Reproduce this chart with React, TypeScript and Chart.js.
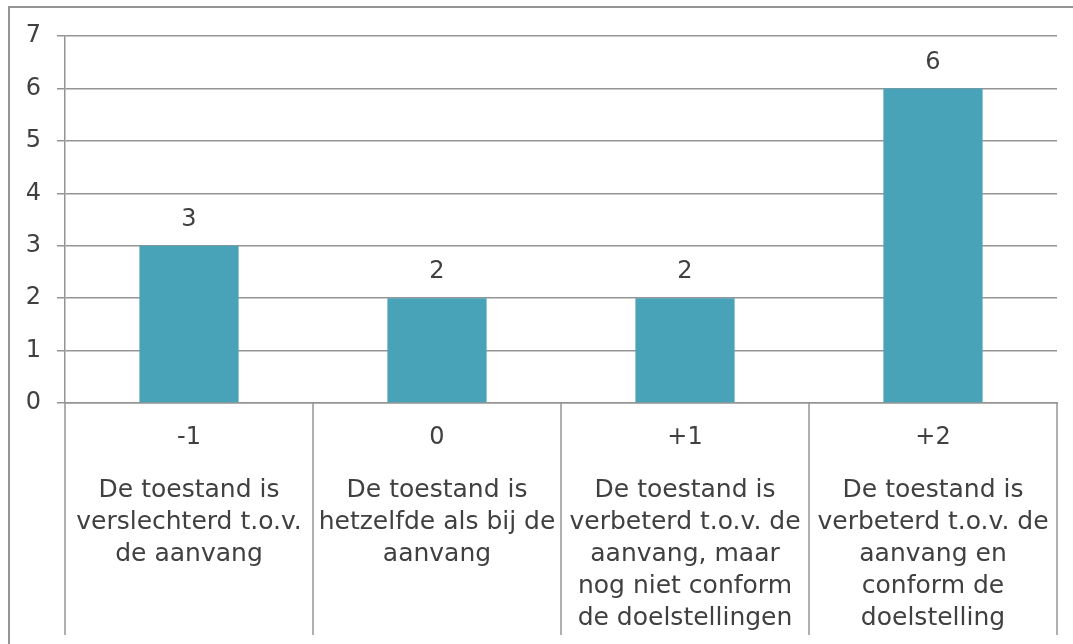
import React, { useEffect, useRef } from "react";
import { Chart, registerables } from "chart.js";

Chart.register(...registerables);

const codes: string[] = ["-1", "0", "+1", "+2"];
const descriptions: string[][] = [
  ["De toestand is", "verslechterd t.o.v.", "de aanvang"],
  ["De toestand is", "hetzelfde als bij de", "aanvang"],
  ["De toestand is", "verbeterd t.o.v. de", "aanvang, maar", "nog niet conform", "de doelstellingen"],
  ["De toestand is", "verbeterd t.o.v. de", "aanvang en", "conform de", "doelstelling"],
];
const counts: number[] = [3, 2, 2, 6];
const yTicks: number[] = [0, 1, 2, 3, 4, 5, 6, 7];

const FONT = "'DejaVu Sans', sans-serif";
const TEXT = "#404040";
const LINE = "#949494";
const BAR = "#48A2B8";

const framePlugin = {
  id: "frame",
  beforeDraw(chart: any) {
    const ctx = chart.ctx;
    ctx.save();
    ctx.fillStyle = "#ffffff";
    ctx.fillRect(0, 0, chart.width, chart.height);
    ctx.strokeStyle = LINE;
    ctx.lineWidth = 2;
    ctx.strokeRect(9, 7, chart.width + 50, chart.height + 50);
    ctx.restore();
  },
};

const separatorPlugin = {
  id: "separators",
  afterDraw(chart: any) {
    const x = chart.scales.x;
    const x2 = chart.scales.x2;
    const ctx = chart.ctx;
    ctx.save();
    ctx.strokeStyle = LINE;
    ctx.lineWidth = 1.5;
    for (let i = 0; i <= codes.length; i++) {
      const px = Math.round(x.getPixelForValue(i - 0.5));
      ctx.beginPath();
      ctx.moveTo(px, chart.chartArea.bottom);
      ctx.lineTo(px, x2.bottom + 1);
      ctx.stroke();
    }
    ctx.restore();
  },
};

const valueLabelPlugin = {
  id: "valueLabels",
  afterDatasetsDraw(chart: any) {
    const ctx = chart.ctx;
    ctx.save();
    ctx.font = `24px ${FONT}`;
    ctx.fillStyle = TEXT;
    ctx.textAlign = "center";
    ctx.textBaseline = "middle";
    chart.data.datasets.forEach((ds: any, di: number) => {
      const meta = chart.getDatasetMeta(di);
      meta.data.forEach((bar: any, i: number) => {
        ctx.fillText(String(ds.data[i]), bar.x, bar.y - 26);
      });
    });
    ctx.restore();
  },
};

export default function App() {
  const ref = useRef<HTMLCanvasElement | null>(null);
  useEffect(() => {
    if (!ref.current) return;
    const chart = new Chart(ref.current, {
      type: "bar",
      data: {
        labels: codes,
        datasets: [
          {
            data: counts,
            backgroundColor: BAR,
            borderWidth: 0,
            categoryPercentage: 1,
            barPercentage: 0.4,
            xAxisID: "x",
            yAxisID: "y",
          },
        ],
      },
      options: {
        responsive: false,
        animation: false,
        layout: { padding: { top: 36, right: 16, bottom: 10, left: 0 } },
        plugins: {
          legend: { display: false },
          tooltip: { enabled: false },
        },
        scales: {
          y: {
            min: 0,
            max: 7,
            afterBuildTicks: (s: any) => {
              s.ticks = yTicks.map((v) => ({ value: v }));
            },
            afterFit: (s: any) => {
              s.width = 65;
            },
            ticks: {
              font: { family: FONT, size: 24 },
              color: TEXT,
              padding: 16,
            },
            grid: { color: LINE, tickLength: 8, drawTicks: true, lineWidth: 1.5 },
            border: { color: LINE, width: 1.5 },
          },
          x: {
            type: "category",
            position: "bottom",
            weight: 0,
            offset: true,
            afterFit: (s: any) => {
              s.height = 64;
            },
            ticks: {
              autoSkip: false,
              maxRotation: 0,
              minRotation: 0,
              font: { family: FONT, size: 24, lineHeight: 1.2 },
              color: TEXT,
              padding: 20,
            },
            grid: { display: false, drawOnChartArea: false, drawTicks: false },
            border: { display: true, color: LINE, width: 1.5 },
          },
          x2: {
            type: "category",
            position: "bottom",
            weight: 1,
            offset: true,
            labels: descriptions as any,
            afterFit: (s: any) => {
              s.height = 167;
            },
            ticks: {
              autoSkip: false,
              maxRotation: 0,
              minRotation: 0,
              font: { family: FONT, size: 25, lineHeight: 1.28 },
              color: TEXT,
              padding: 7,
            },
            grid: { display: false, drawOnChartArea: false, drawTicks: false },
            border: { display: false },
          },
        },
      },
      plugins: [framePlugin, separatorPlugin, valueLabelPlugin],
    });
    return () => chart.destroy();
  }, []);
  return (
    <div style={{ position: "fixed", left: 0, top: 0, width: 1073, height: 644, background: "#fff" }}>
      <canvas ref={ref} width={1073} height={644} style={{ display: "block" }} />
    </div>
  );
}
